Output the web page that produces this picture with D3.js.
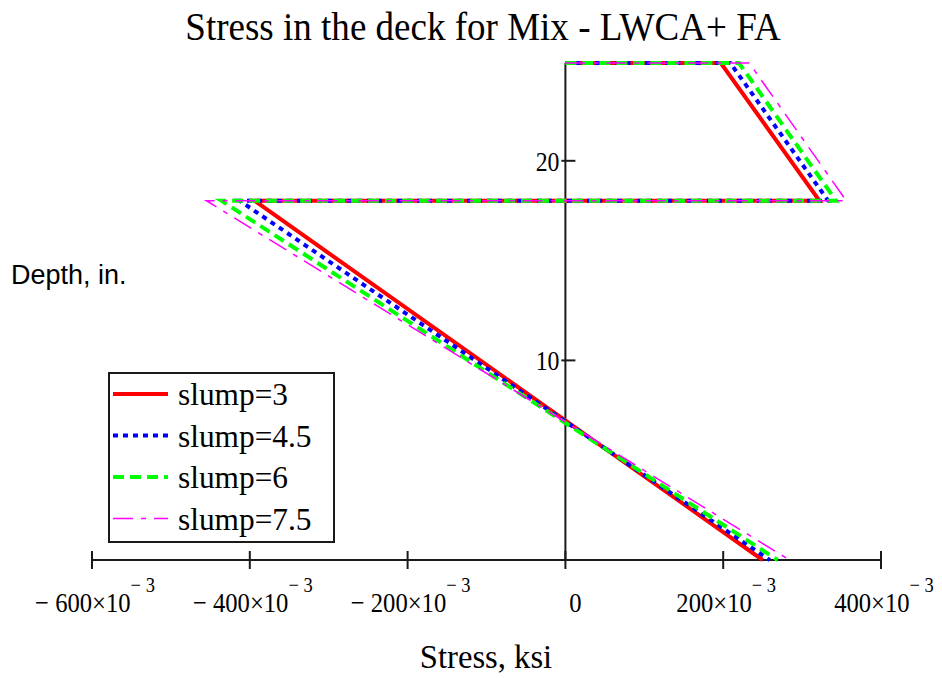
<!DOCTYPE html>
<html><head><meta charset="utf-8">
<script src="https://cdn.jsdelivr.net/npm/d3@7"></script>
<style>body{margin:0;background:#fff}svg{display:block}</style>
</head><body>
<script>
// ---- data ----
const depth = [24.9, 24.9, 18, 18, 0];           // in.
const slump3   = [0, 197, 322, -394, 250];       // x10^-3 ksi
const slump45  = [0, 209, 333, -413, 259];
const slump6   = [0, 220, 343, -436, 269];
const slump75  = [0, 233, 356, -455, 284];
const seriesNames = ["slump=3", "slump=4.5", "slump=6", "slump=7.5"];
const xTicks = [-600, -400, -200, 0, 200, 400];
const yTicks = [10, 20];

const series = [
  {name: seriesNames[0], vals: slump3,  color: "#ff0000", dash: null,        w: 4},
  {name: seriesNames[1], vals: slump45, color: "#0000ff", dash: "5,5",      w: 4},
  {name: seriesNames[2], vals: slump6,  color: "#00ff00", dash: "11,6",     w: 4},
  {name: seriesNames[3], vals: slump75, color: "#ff00ff", dash: "20,8,5,8", w: 1.5}
];

const W = 942, H = 678;
const svg = d3.select("body").append("svg").attr("width", W).attr("height", H);
const x = d3.scaleLinear().domain([-600, 400]).range([92, 881]);
const y = d3.scaleLinear().domain([0, 24.9]).range([560, 63]);
const serif = "'Liberation Serif','Times New Roman',serif";
const axisCol = "#1a1a1a";

// text with horizontal condensing
function stext(parent, px, py, size, sx, anchor, family) {
  return parent.append("text")
    .attr("transform", `translate(${px},${py}) scale(${sx},1)`)
    .attr("text-anchor", anchor).attr("font-family", family || serif).attr("font-size", size);
}

// title
stext(svg, 483, 40, 39, 0.95, "middle").text("Stress in the deck for Mix - LWCA+ FA");

// x axis
svg.append("line").attr("x1", x(-600)).attr("x2", x(400)).attr("y1", y(0)).attr("y2", y(0))
  .attr("stroke", axisCol).attr("stroke-width", 2);
svg.selectAll(".xt").data(xTicks).enter().append("line")
  .attr("x1", d => x(d)).attr("x2", d => x(d)).attr("y1", y(0) - 9).attr("y2", y(0) + 9)
  .attr("stroke", axisCol).attr("stroke-width", 2);
xTicks.forEach(d => {
  const t = stext(svg, x(d) + (d === 0 ? 10 : 3), 612, 28, 0.88, "middle");
  if (d === 0) { t.text("0"); return; }
  t.append("tspan").text((d < 0 ? "\u2212 " : "") + Math.abs(d) + "\u00d710");
  t.append("tspan").attr("dy", -20).attr("font-size", 21).text("\u2212 3");
});

// y axis
svg.append("line").attr("x1", x(0)).attr("x2", x(0)).attr("y1", y(0)).attr("y2", y(24.9))
  .attr("stroke", axisCol).attr("stroke-width", 2);
svg.selectAll(".yt").data(yTicks).enter().append("line")
  .attr("x1", x(0) - 4).attr("x2", x(0) + 10).attr("y1", d => y(d)).attr("y2", d => y(d))
  .attr("stroke", axisCol).attr("stroke-width", 2);
yTicks.forEach(d => {
  stext(svg, x(0) - 6, y(d) + 10, 27, 0.88, "end").text(d);
});

// axis titles
stext(svg, 486, 668, 34, 0.96, "middle").text("Stress, ksi");
stext(svg, 11, 284, 27, 1, "start", "'Liberation Sans',Arial,sans-serif").text("Depth, in.");

// series
const line = d3.line().x(d => x(d[0])).y(d => y(d[1]));
series.forEach(s => {
  svg.append("path").datum(s.vals.map((v, i) => [v, depth[i]]))
    .attr("d", line).attr("fill", "none").attr("stroke", s.color)
    .attr("stroke-width", s.w).attr("stroke-dasharray", s.dash)
    .attr("stroke-linejoin", "miter");
});

// legend
const lg = svg.append("g");
lg.append("rect").attr("x", 109).attr("y", 373).attr("width", 225).attr("height", 169)
  .attr("fill", "#fff").attr("stroke", axisCol).attr("stroke-width", 2);
series.forEach((s, i) => {
  const yy = 394 + i * 41.5;
  lg.append("line").attr("x1", 113).attr("x2", 168).attr("y1", yy).attr("y2", yy)
    .attr("stroke", s.color).attr("stroke-width", s.w).attr("stroke-dasharray", s.dash);
  stext(lg, 178, yy + 11, 32, 0.98, "start").text(s.name);
});
</script>
</body></html>
